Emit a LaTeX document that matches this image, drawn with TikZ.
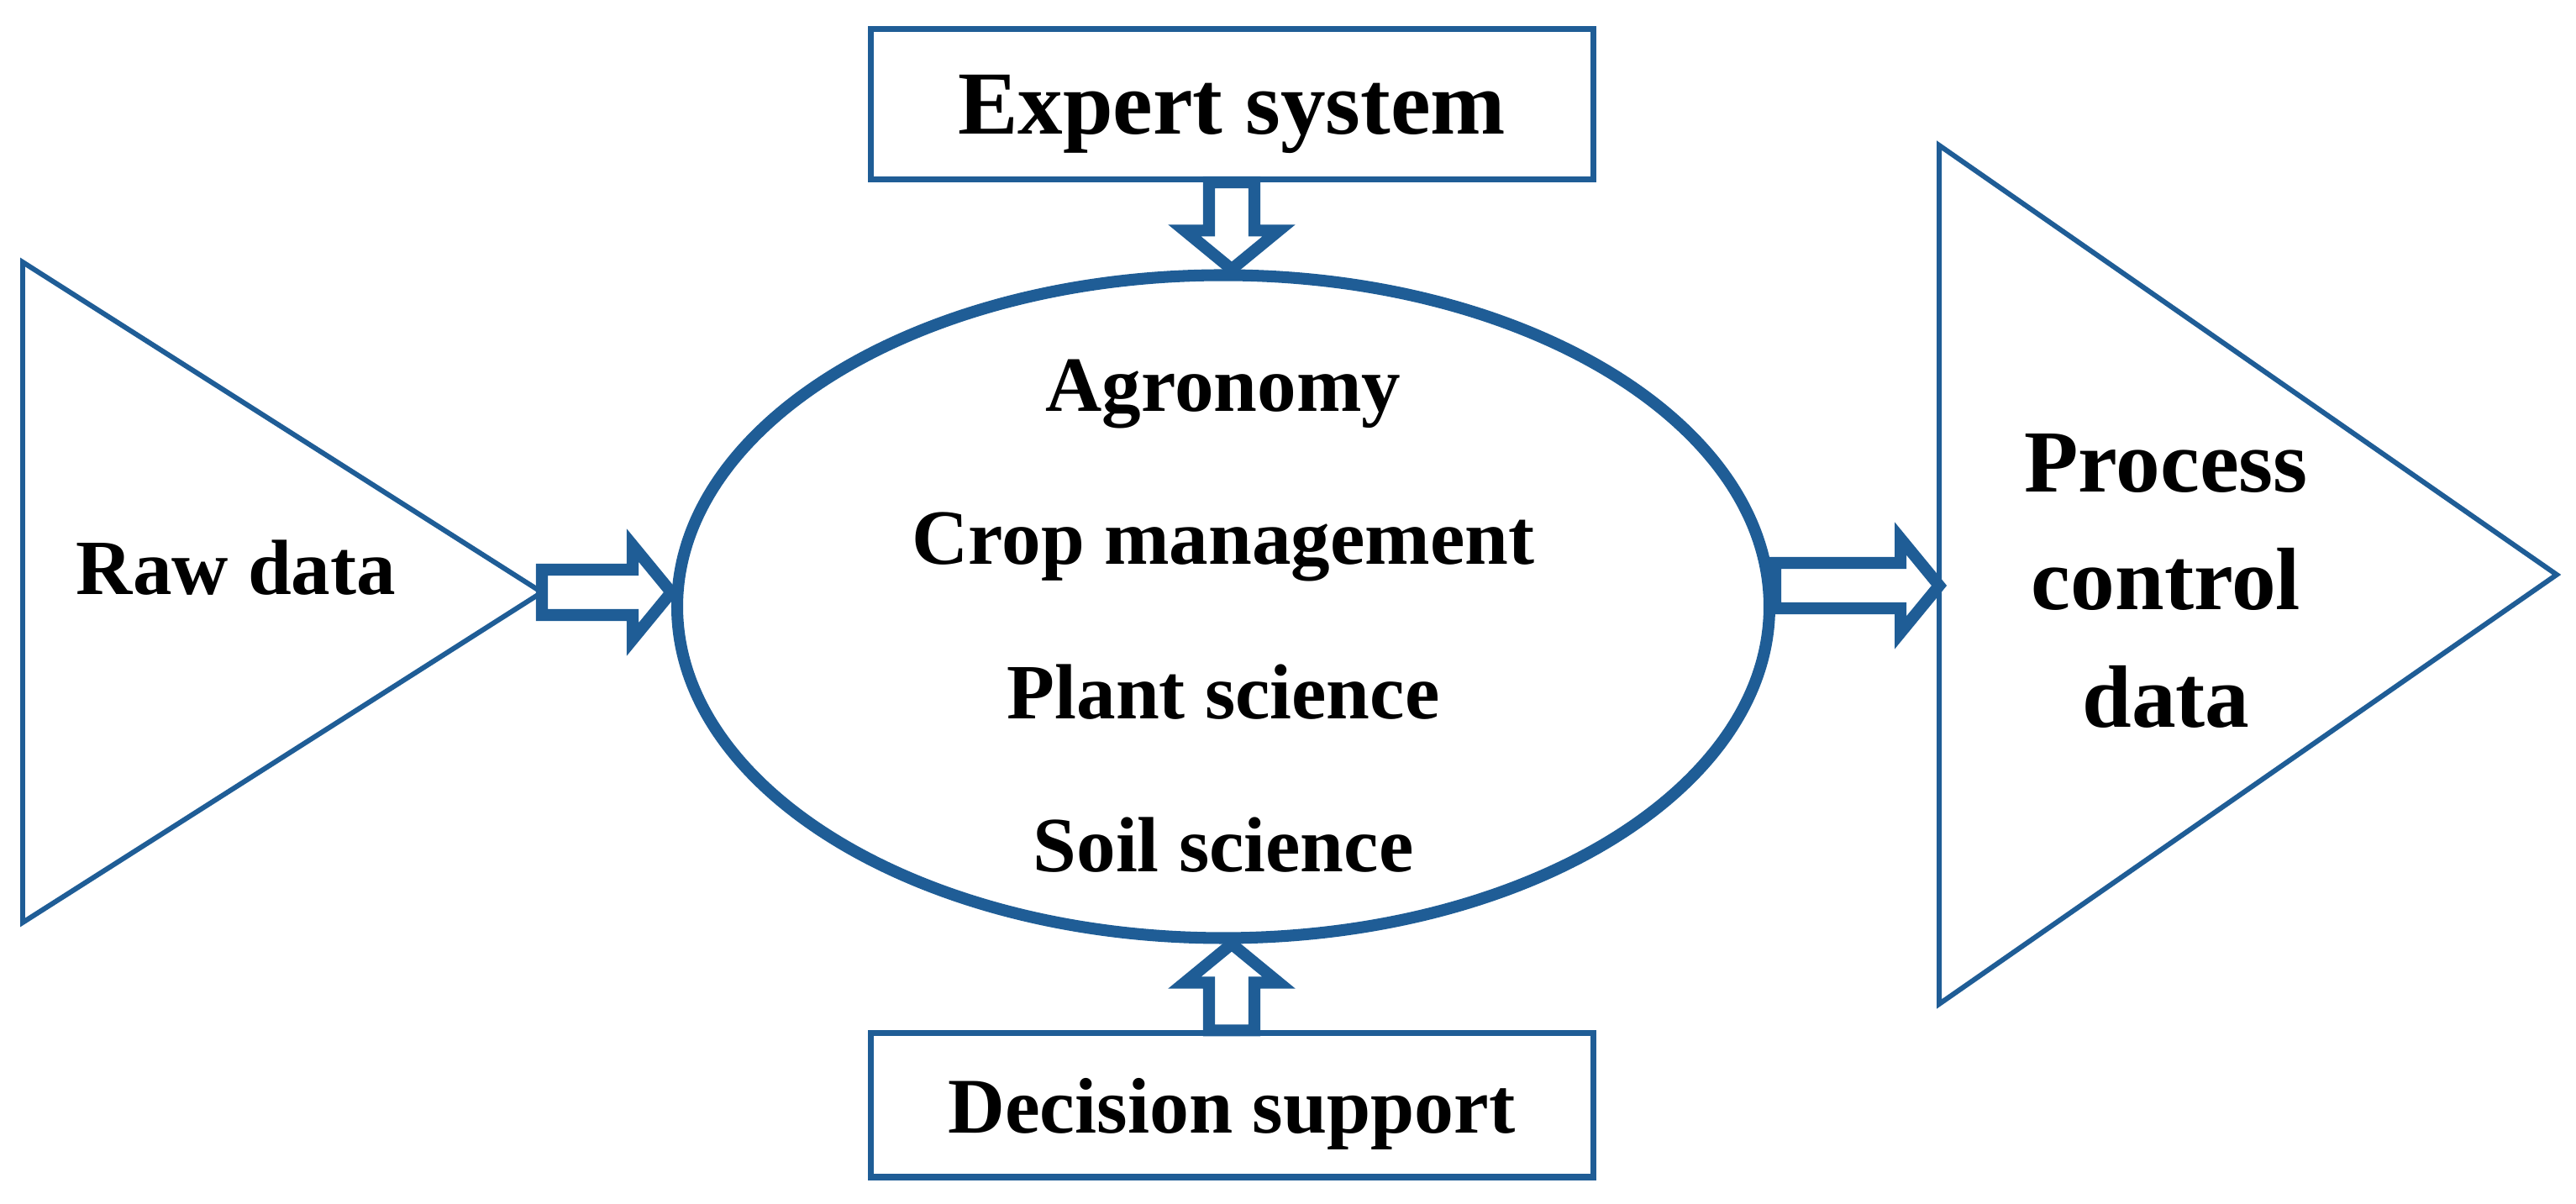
\documentclass[tikz,border=0pt]{standalone}
\usepackage{fontspec}
\setmainfont{Liberation Serif}
\usetikzlibrary{positioning,calc,shapes.geometric}
\definecolor{flowblue}{RGB}{31,93,150}
\tikzset{
  blk/.style={draw=flowblue, line width=4pt, line join=miter,
    to path={($(\tikztostart)!0.27cm!90:(\tikztotarget)$)
      -- ($($(\tikztotarget)!0.46cm!(\tikztostart)$)!0.27cm!90:(\tikztotarget)$)
      -- ($($(\tikztotarget)!0.46cm!(\tikztostart)$)!0.56cm!90:(\tikztotarget)$)
      -- (\tikztotarget)
      -- ($($(\tikztotarget)!0.46cm!(\tikztostart)$)!0.56cm!-90:(\tikztotarget)$)
      -- ($($(\tikztotarget)!0.46cm!(\tikztostart)$)!0.27cm!-90:(\tikztotarget)$)
      -- ($(\tikztostart)!0.27cm!-90:(\tikztotarget)$) -- cycle}},
  infobox/.style={draw=flowblue, line width=2pt, minimum width=8.6cm, text depth=0pt,
    font=\bfseries\fontsize{30.5}{36}\selectfont},
  tribox/.style={inner sep=0pt, outer sep=0pt},
  txt/.style={text depth=0pt, font=\bfseries\fontsize{26.5}{32}\selectfont},
}
\begin{document}
\begin{tikzpicture}[node distance=1.82cm]
\useasboundingbox (0,0) rectangle (30.66,14.33);
\node(E) [ellipse, draw=flowblue, line width=4pt, minimum width=13cm, minimum height=7.89cm, inner sep=0pt] at (14.56,7.11) {};
\node(X) [infobox, minimum height=1.79cm] at (14.66,13.09) {Expert system};
\node(D) [infobox, minimum height=1.71cm, font=\bfseries\fontsize{26.7}{32}\selectfont] at (14.66,1.175) {Decision support};
\node(R) [tribox, minimum width=6.18cm, minimum height=7.86cm] at (3.36,7.28) {};
\node(P) [tribox, minimum width=7.35cm, minimum height=10.22cm] at (26.755,7.49) {};
\draw[flowblue, line width=1.7pt] (R.north west) -- (R.east) -- (R.south west) -- cycle;
\draw[flowblue, line width=1.7pt] (P.north west) -- (P.east) -- (P.south west) -- cycle;
\node(Rd) [txt] at (2.81,7.58) {Raw data};
\node(Pc) [txt, align=center, font=\bfseries\fontsize{30}{39.8}\selectfont] at (25.78,7.42) {Process\\control\\data};
\node(Ag) [txt] at (14.56,9.74) {Agronomy};
\node(Cm) [txt, below of=Ag] {Crop management};
\node(Ps) [txt, below of=Cm] {Plant science};
\node(Ss) [txt, below of=Ps] {Soil science};
\draw[blk](R.east) to (R.east -| E.west);
\draw[blk]([yshift=2.5mm]E.east) to ([yshift=-1.3mm]P.west);
\draw[blk](X.south) to (X.south |- E.north);
\draw[blk](D.north) to (D.north |- E.south);
\end{tikzpicture}
\end{document}
